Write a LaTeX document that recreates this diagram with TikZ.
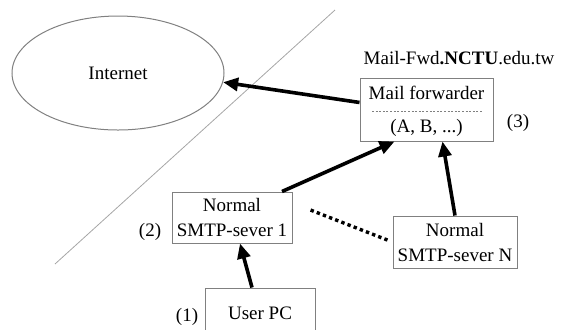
\documentclass[tikz,border=0pt]{standalone}
\usepackage{fontspec}
\setmainfont{Liberation Serif}
\usetikzlibrary{shapes.geometric,arrows.meta}

\begin{document}
\begin{tikzpicture}[x=0.5pt, y=-0.5pt,
    font=\fontsize{9.5}{12.5}\selectfont,
    box/.style={draw=gray, line width=0.5pt, rectangle, align=center, inner sep=0pt},
    fwd/.style={-{Triangle[length=7.5pt, width=6.5pt]}, line width=1.8pt}]
    \useasboundingbox (0,0) rectangle (561,329);
    \draw[gray!70, line width=0.4pt] (335,10) -- (55,264);

    \node[draw=gray, ellipse, line width=0.5pt, minimum width=106pt, minimum height=57pt, inner sep=0pt] (inet) at (118,73) {Internet};
    \node[box, minimum width=66.5pt, minimum height=31.5pt] (mf) at (426.5,109.5) {};
    \node (mfname) at (426.5,93) {Mail forwarder};
    \node (mflist) at (426.5,128) {(A, B, ...)};
    \draw[gray, line width=0.4pt, dash pattern=on 1pt off 0.8pt] (372,111) -- (483,111);
    \node[box, minimum width=60pt, minimum height=25.5pt] (smtp1) at (232,217.5) {Normal\\SMTP-sever 1};
    \node[box, minimum width=62pt, minimum height=26pt] (smtpN) at (455,242) {Normal\\SMTP-sever N};
    \node[box, minimum width=55pt, minimum height=25pt] (pc) at (260,313) {User PC};

    \node (addr) at (459,58) {Mail-Fwd\textbf{.NCTU}.edu.tw};
    \node (n3) at (518,123) {(3)};
    \node (n2) at (150,232) {(2)};
    \node (n1) at (187,317) {(1)};

    \draw[fwd] (mf.174) -- (inet.-5);
    \draw[fwd] ([xshift=25pt]smtp1.north) -- ([xshift=-16pt]mf.south);
    \draw[fwd] (smtpN.north) -- ([xshift=8pt]mf.south);
    \draw[fwd] ([xshift=-4pt]pc.north) -- ([xshift=4pt]smtp1.south);
    \draw[line width=1.7pt, dash pattern=on 1.7pt off 1.6pt, shorten <=9.7pt, shorten >=2.7pt] ([yshift=7.25pt]smtp1.east) -- (smtpN.west);
\end{tikzpicture}
\end{document}
